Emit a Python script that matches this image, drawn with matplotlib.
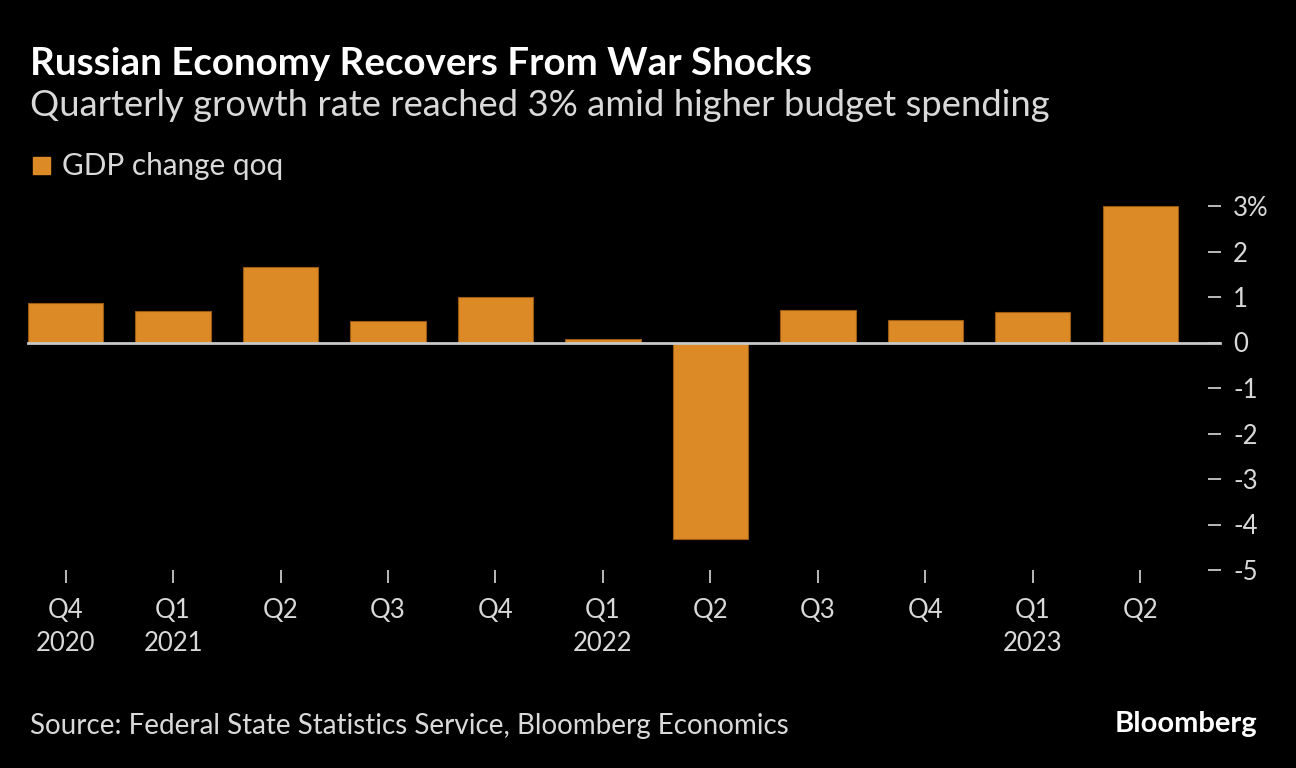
import numpy as np
import matplotlib
matplotlib.use('Agg')
import matplotlib.pyplot as plt
from matplotlib.patches import Rectangle

plt.rcParams['font.family'] = ['Lato', 'DejaVu Sans']

# data
quarters = ['Q4\n2020', 'Q1\n2021', 'Q2', 'Q3', 'Q4', 'Q1\n2022',
            'Q2', 'Q3', 'Q4', 'Q1\n2023', 'Q2']
gdp_qoq = [0.86, 0.70, 1.66, 0.47, 1.00, 0.07, -4.32, 0.72, 0.50, 0.68, 3.00]
y_ticks = [3, 2, 1, 0, -1, -2, -3, -4, -5]
y_labels = ['3%', '2', '1', '0', '-1', '-2', '-3', '-4', '-5']

BG = '#000000'
ORANGE = '#DC8A26'
TXT = '#D9D9D9'

fig = plt.figure(figsize=(12.96, 7.68), dpi=100, facecolor=BG)
ax = fig.add_axes([28 / 1296, 1 - 570 / 768, (1208 - 28) / 1296, (570 - 206) / 768])
ax.set_facecolor(BG)

x = np.arange(len(gdp_qoq))
ax.bar(x, gdp_qoq, width=0.70, color=ORANGE, edgecolor='#9A5A14', linewidth=0.8,
       zorder=2)
ax.axhline(0, color='#C8C8C8', linewidth=2, zorder=3, clip_on=False,
           xmax=1 + 12 / 1180)

ax.set_xlim(-0.35, 10.63)
ax.set_ylim(-5, 3)
for s in ax.spines.values():
    s.set_visible(False)

ax.yaxis.tick_right()
ax.set_yticks(y_ticks)
ax.set_yticklabels(y_labels)
ax.tick_params(axis='y', colors=TXT, length=9, width=1.2, pad=9,
               labelsize=18.5, labelcolor=TXT)
ax.set_xticks(x)
ax.set_xticklabels(quarters, linespacing=1.4)
ax.tick_params(axis='x', colors=TXT, length=9, width=1.2, pad=11,
               labelsize=18.5, labelcolor=TXT)

fig.text(30 / 1296, 1 - 64 / 768, 'Russian Economy Recovers From War Shocks',
         color='white', fontsize=27.7, fontweight='bold', va='center')
fig.text(30 / 1296, 1 - 106 / 768,
         'Quarterly growth rate reached 3% amid higher budget spending',
         color=TXT, fontsize=26.2, va='center')
fig.patches.append(Rectangle((33 / 1296, 1 - 174 / 768), 17 / 1296, 17 / 768,
                             transform=fig.transFigure, color=ORANGE))
fig.text(62 / 1296, 1 - 166 / 768, 'GDP change qoq', color=TXT, fontsize=21.4,
         va='center')
fig.text(30 / 1296, 1 - 726 / 768,
         'Source: Federal State Statistics Service, Bloomberg Economics',
         color=TXT, fontsize=20, va='center')
fig.text(1257 / 1296, 1 - 724 / 768, 'Bloomberg', color='white', fontsize=21,
         fontweight='bold', ha='right', va='center')

fig.savefig('out.png', dpi=100, facecolor=BG)
